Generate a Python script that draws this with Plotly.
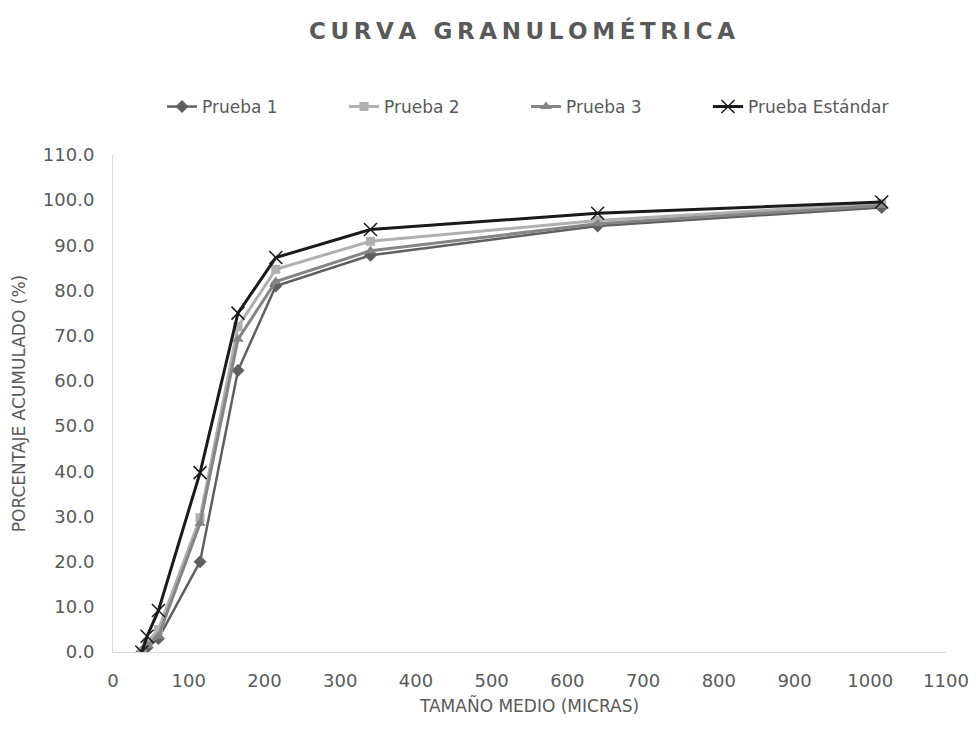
import plotly.graph_objects as go

tamano = [38, 45, 60, 115, 165, 215, 340, 640, 1015]
prueba1 = [0.0, 1.0, 3.0, 20.0, 62.3, 81.0, 87.8, 94.3, 98.4]
prueba2 = [0.0, 2.0, 5.0, 29.7, 72.0, 84.7, 90.9, 95.5, 99.3]
prueba3 = [0.0, 1.5, 3.5, 28.5, 69.2, 82.0, 88.8, 94.8, 98.8]
estandar = [0.0, 3.5, 9.2, 39.7, 75.0, 87.3, 93.5, 97.1, 99.6]

FONT = "DejaVu Sans"
GREY = "#595959"
TS = "\u2009"
title_text = (TS + " " + TS).join(TS.join(w) for w in ["CURVA", "GRANULOMÉTRICA"])

W, H = 968, 735

fig = go.Figure()
fig.add_trace(go.Scatter(x=tamano, y=prueba1, name="Prueba 1", mode="lines+markers",
                         line=dict(color="#5f5f5f", width=2.5),
                         marker=dict(symbol="diamond", size=10, color="#5f5f5f")))
fig.add_trace(go.Scatter(x=tamano, y=prueba2, name="Prueba 2", mode="lines+markers",
                         line=dict(color="#b0b0b0", width=3),
                         marker=dict(symbol="square", size=9, color="#b0b0b0")))
fig.add_trace(go.Scatter(x=tamano, y=prueba3, name="Prueba 3", mode="lines+markers",
                         line=dict(color="#858585", width=3),
                         marker=dict(symbol="triangle-up", size=10, color="#858585")))
fig.add_trace(go.Scatter(x=tamano, y=estandar, name="Prueba Estándar", mode="lines+markers",
                         line=dict(color="#1a1a1a", width=3),
                         marker=dict(symbol="x-thin", size=13, color="#1a1a1a",
                                     line=dict(width=1.5, color="#1a1a1a"))))

fig.update_layout(
    width=W, height=H,
    paper_bgcolor="white", plot_bgcolor="white",
    margin=dict(l=105, r=30, t=147, b=91, autoexpand=False),
    font=dict(family=FONT, color=GREY, size=16),
    title=dict(text="<b>" + title_text + "</b>", x=514 / W, xanchor="center",
               y=1 - 23 / H, yanchor="middle", yref="container",
               font=dict(family=FONT, size=23, color=GREY)),
    legend=dict(orientation="h", x=154 / W, xanchor="left", xref="container",
                y=1 - 99 / H, yanchor="middle", yref="container",
                font=dict(size=17, color=GREY), entrywidth=137, entrywidthmode="pixels",
                bgcolor="rgba(0,0,0,0)"),
    xaxis=dict(range=[0, 1100], dtick=100, tick0=0, showgrid=False, zeroline=False,
               showline=True, linecolor="#d9d9d9", linewidth=1,
               ticks="outside", ticklen=12, tickcolor="rgba(0,0,0,0)", automargin=False,
               tickfont=dict(size=18, color=GREY),
               title=dict(text="TAMAÑO MEDIO (MICRAS)", font=dict(size=17, color=GREY), standoff=10)),
    yaxis=dict(range=[0, 110], dtick=10, tick0=0, tickformat=".1f", showgrid=False, zeroline=False,
               showline=True, linecolor="#d9d9d9", linewidth=1,
               ticks="outside", ticklen=14, tickcolor="rgba(0,0,0,0)", automargin=False,
               tickfont=dict(size=18, color=GREY),
               title=dict(text="PORCENTAJE ACUMULADO (%)", font=dict(size=17, color=GREY), standoff=12)),
)

fig.write_html("out.html")
